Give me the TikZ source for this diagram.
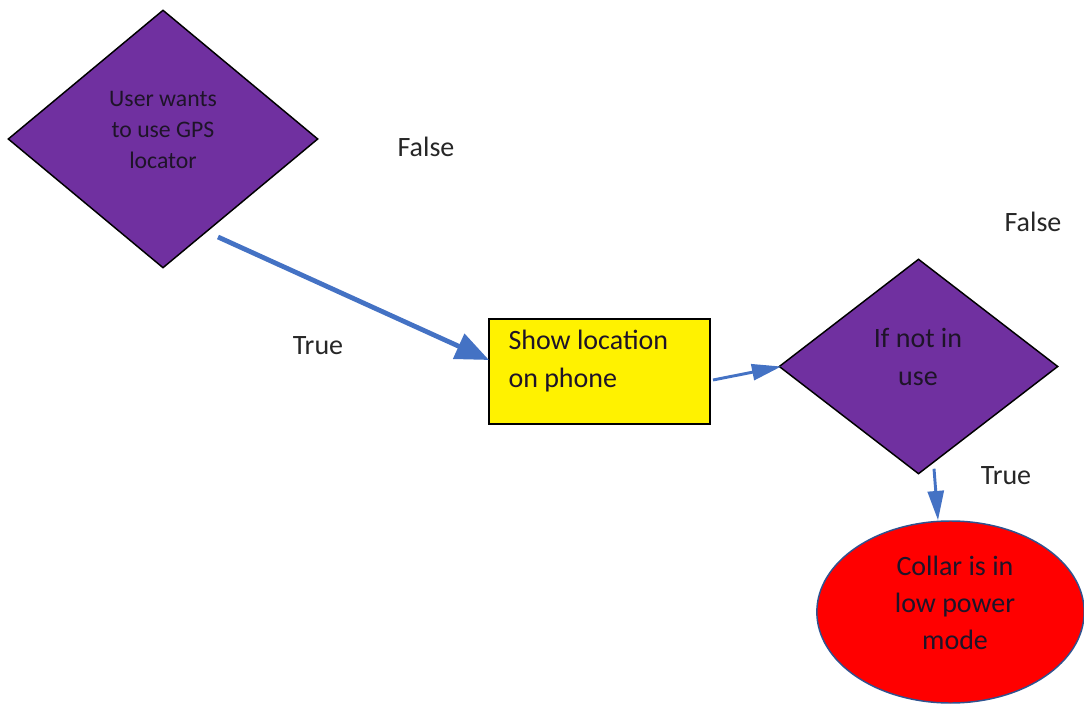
\documentclass[tikz,border=0pt]{standalone}
\usepackage{fontspec}
\setmainfont{Carlito}
\usetikzlibrary{shapes.geometric,arrows.meta,positioning}
\definecolor{dpurple}{RGB}{112,48,160}
\definecolor{flowblue}{RGB}{68,114,196}
\definecolor{edgeblue}{RGB}{47,82,143}
\definecolor{inkdark}{RGB}{30,20,40}
\tikzset{every picture/.style={line width=0.75pt}}

\begin{document}
\begin{tikzpicture}[x=0.75pt,y=0.75pt,yscale=-1,xscale=1,
  decision/.style={diamond,draw=black,fill=dpurple,line width=1.1pt,inner sep=0pt},
  process/.style={rectangle,draw=black,fill=yellow,line width=1.5pt,inner sep=0pt},
  terminal/.style={ellipse,draw=edgeblue,fill=red,line width=1.1pt,inner sep=0pt},
  bigtext/.style={inner sep=0pt,text=inkdark,font=\fontsize{21}{28}\selectfont},
  smalltext/.style={inner sep=0pt,text=inkdark,font=\fontsize{17.8}{23.25}\selectfont,align=center},
  branch/.style={inner sep=0pt,text=black!85,font=\fontsize{21}{28}\selectfont},
  flow/.style={draw=flowblue,line width=2.2pt,-{Triangle[length=22pt,width=12pt]}}]
\useasboundingbox (0,0) rectangle (1084,705);

%Decision: GPS wanted
\node[decision,minimum width=232.5pt,minimum height=193.5pt] (gps) at (163,139) {};
\node[smalltext] (gpstext) at (163,130) {User wants\\to use GPS\\locator};

%Process: show location
\node[process,minimum width=165.75pt,minimum height=78.75pt] (show) at (599.5,371.5) {};
\node[bigtext,anchor=west,align=left] (showtext) at (508,361) {Show location\\on phone};

%Decision: not in use
\node[decision,minimum width=209.25pt,minimum height=161.25pt] (idle) at (918.5,366.5) {};
\node[bigtext,align=center] (idletext) at (918,357) {If not in\\use};

%Terminal: low power
\node[terminal,minimum width=200.5pt,minimum height=136.5pt] (lowpwr) at (950.5,612) {};
\node[bigtext,align=center] (lowpwrtext) at (955,603) {Collar is in\\low power\\mode};

% branch labels
\node[branch] (gpsfalse) at (426,147) {False};
\node[branch] (gpstrue) at (318,346) {True};
\node[branch] (idlefalse) at (1033,222) {False};
\node[branch] (idletrue) at (1006,476) {True};

% connectors
\draw[flow,line width=3.6pt,-{Triangle[length=25pt,width=20pt]}] ([shift={(55,98)}]gps.center) -- ([shift={(1,-11.5)}]show.west);
\draw[flow] ([shift={(2,8.5)}]show.east) -- ([shift={(3,0)}]idle.west);
\draw[flow] ([shift={(15.5,-6)}]idle.south) -- ([shift={(-12.5,0)}]lowpwr.north);

\end{tikzpicture}
\end{document}
